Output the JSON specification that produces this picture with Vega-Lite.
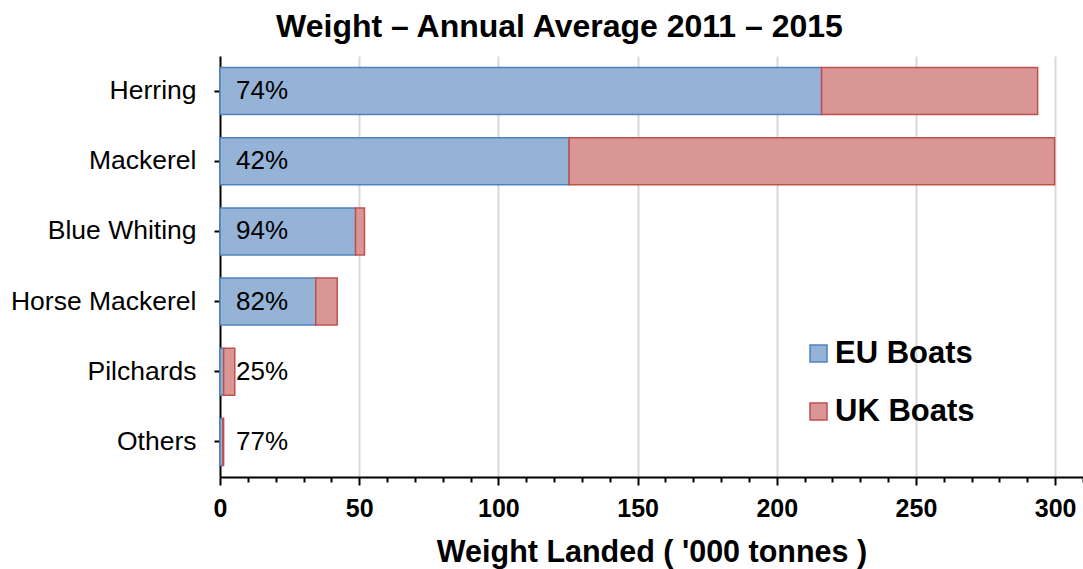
{
  "$schema": "https://vega.github.io/schema/vega-lite/v6.json",
  "autosize": {"type": "none"},
  "width": 863,
  "height": 421,
  "padding": {"left": 220, "top": 56, "right": 0, "bottom": 92},
  "background": "white",
  "title": {
    "text": "Weight – Annual Average 2011 – 2015",
    "font": "Liberation Sans",
    "fontSize": 32,
    "fontWeight": "bold",
    "color": "black",
    "anchor": "middle",
    "frame": "group",
    "dx": -92,
    "offset": 12
  },
  "datasets": {
    "weights": [
      {"species": "Herring", "boats": "EU Boats", "weight": 216.1},
      {"species": "Herring", "boats": "UK Boats", "weight": 77.6},
      {"species": "Mackerel", "boats": "EU Boats", "weight": 125.4},
      {"species": "Mackerel", "boats": "UK Boats", "weight": 174.4},
      {"species": "Blue Whiting", "boats": "EU Boats", "weight": 48.7},
      {"species": "Blue Whiting", "boats": "UK Boats", "weight": 3.2},
      {"species": "Horse Mackerel", "boats": "EU Boats", "weight": 34.4},
      {"species": "Horse Mackerel", "boats": "UK Boats", "weight": 7.7},
      {"species": "Pilchards", "boats": "EU Boats", "weight": 1.3},
      {"species": "Pilchards", "boats": "UK Boats", "weight": 4.0},
      {"species": "Others", "boats": "EU Boats", "weight": 1.0},
      {"species": "Others", "boats": "UK Boats", "weight": 0.3}
    ],
    "labels": [
      {"species": "Herring", "pct": "74%"},
      {"species": "Mackerel", "pct": "42%"},
      {"species": "Blue Whiting", "pct": "94%"},
      {"species": "Horse Mackerel", "pct": "82%"},
      {"species": "Pilchards", "pct": "25%"},
      {"species": "Others", "pct": "77%"}
    ]
  },
  "encoding": {
    "y": {
      "field": "species",
      "type": "nominal",
      "sort": ["Herring", "Mackerel", "Blue Whiting", "Horse Mackerel", "Pilchards", "Others"],
      "scale": {"paddingInner": 0.33, "paddingOuter": 0.165},
      "axis": {
        "title": null,
        "domainColor": "black",
        "domainWidth": 2,
        "tickColor": "black",
        "tickWidth": 2,
        "tickSize": 6,
        "labelPadding": 18,
        "labelFont": "Liberation Sans",
        "labelFontSize": 26.5,
        "labelColor": "black",
        "labelLimit": 300,
        "grid": false
      }
    }
  },
  "layer": [
    {
      "data": {"name": "weights"},
      "mark": {"type": "bar", "strokeWidth": 1.5, "opacity": 1},
      "encoding": {
        "x": {
          "field": "weight",
          "type": "quantitative",
          "stack": "zero",
          "scale": {"domain": [0, 310], "nice": false, "zero": true},
          "axis": {
            "title": "Weight Landed ( '000 tonnes )",
            "titleFont": "Liberation Sans",
            "titleFontSize": 30.5,
            "titleFontWeight": "bold",
            "titleColor": "black",
            "titlePadding": 16,
            "tickCount": 40,
            "values": [0,10,20,30,40,50,60,70,80,90,100,110,120,130,140,150,160,170,180,190,200,210,220,230,240,250,260,270,280,290,300,310],
            "labelExpr": "abs(datum.value / 50 - round(datum.value / 50)) < 0.01 ? format(datum.value, 'd') : ''",
            "labelOverlap": false,
            "labelFlush": false,
            "labelFont": "Liberation Sans",
            "labelFontSize": 25,
            "labelFontWeight": "bold",
            "labelColor": "black",
            "labelPadding": 11,
            "domainColor": "black",
            "domainWidth": 2,
            "tickColor": "black",
            "tickWidth": 2,
            "tickSize": {"condition": {"test": "abs(datum.value / 50 - round(datum.value / 50)) < 0.01", "value": 8}, "value": 5},
            "grid": true,
            "gridColor": "#D9D9D9",
            "gridWidth": 2,
            "gridOpacity": {"condition": {"test": "abs(datum.value / 50 - round(datum.value / 50)) < 0.01 && datum.value > 1", "value": 1}, "value": 0}
          }
        },
        "color": {
          "field": "boats",
          "type": "nominal",
          "scale": {"domain": ["EU Boats", "UK Boats"], "range": ["#95B3D7", "#D99694"]},
          "legend": {
            "orient": "none",
            "legendX": 583,
            "legendY": 282,
            "title": null,
            "padding": 0,
            "symbolType": "square",
            "symbolSize": 289,
            "symbolStrokeWidth": 1.5,
            "labelFont": "Liberation Sans",
            "labelFontSize": 31,
            "labelFontWeight": "bold",
            "labelColor": "black",
            "labelOffset": 1,
            "rowPadding": 26
          }
        },
        "stroke": {
          "field": "boats",
          "type": "nominal",
          "scale": {"domain": ["EU Boats", "UK Boats"], "range": ["#4F81BD", "#C0504D"]}
        },
        "order": {"field": "boats", "sort": "ascending"}
      }
    },
    {
      "data": {"name": "labels"},
      "mark": {"type": "text", "align": "left", "baseline": "middle", "dx": 16, "font": "Liberation Sans", "fontSize": 26, "color": "black"},
      "encoding": {
        "x": {"datum": 0, "type": "quantitative"},
        "text": {"field": "pct"}
      }
    }
  ],
  "config": {
    "view": {"stroke": null},
    "axis": {"labelFont": "Liberation Sans", "titleFont": "Liberation Sans"}
  }
}
